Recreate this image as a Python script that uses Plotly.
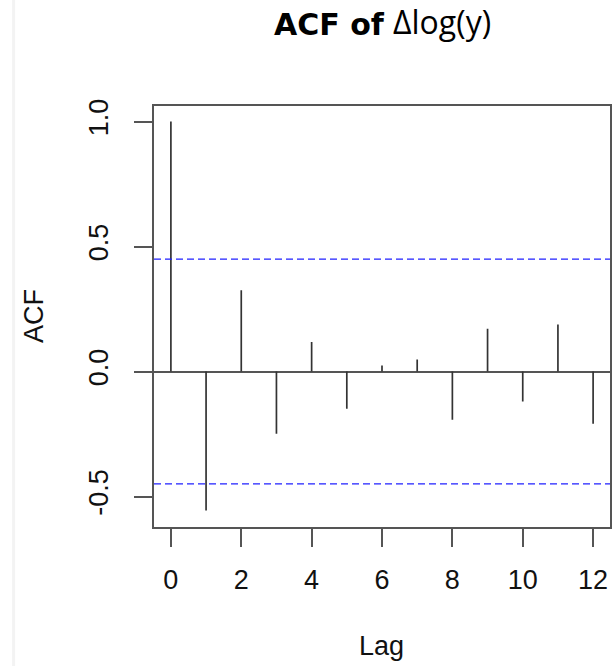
import plotly.graph_objects as go

# ---- data ----
lags = [0, 1, 2, 3, 4, 5, 6, 7, 8, 9, 10, 11, 12]
acf_values = [1.0, -0.556, 0.325, -0.249, 0.118, -0.149, 0.024, 0.048, -0.193, 0.171, -0.120, 0.188, -0.209]
conf_bound = 0.4497  # 1.96/sqrt(n), n = 19
x_ticks = [0, 2, 4, 6, 8, 10, 12]
y_ticks = [-0.5, 0.0, 0.5, 1.0]
y_tick_labels = ["-0.5", "0.0", "0.5", "1.0"]

W, H = 613, 666
L, R, T, B = 154, 1, 106, 139

FONT = "Liberation Sans, Arial, Helvetica, sans-serif"

spike_x, spike_y = [], []
for lag, v in zip(lags, acf_values):
    spike_x += [lag, lag, None]
    spike_y += [0, v, None]

fig = go.Figure()
fig.add_trace(go.Scatter(x=spike_x, y=spike_y, mode="lines",
                         line=dict(color="#333333", width=1.7),
                         hoverinfo="skip", showlegend=False))
for yv in (conf_bound, -conf_bound):
    fig.add_trace(go.Scatter(x=[-0.48, 12.48], y=[yv, yv], mode="lines",
                             line=dict(color="#2020ff", width=1.4, dash="7px,4px"),
                             hoverinfo="skip", showlegend=False))

axis_common = dict(showline=True, mirror=True, linecolor="#555555", linewidth=1.5,
                   ticks="outside", ticklen=18, tickwidth=1.5, tickcolor="#555555",
                   showgrid=False,
                   tickfont=dict(family=FONT, size=27, color="#111111"))

fig.update_xaxes(range=[-0.48, 12.48], tickvals=x_ticks, zeroline=False,
                 ticklabelstandoff=10, ticklabeloverflow="allow", **axis_common)
fig.update_yaxes(range=[-0.622, 1.062], tickvals=y_ticks, ticktext=y_tick_labels,
                 tickangle=-90, zeroline=True, zerolinecolor="#555555", zerolinewidth=1.5,
                 ticklabelstandoff=15, **axis_common)

plot_w = W - L - R
plot_h = H - T - B

def px_x(p):
    return (p - L) / plot_w

def px_y(p):
    return (H - B - p) / plot_h

annotations = [
    dict(text="<b>ACF of</b>", x=px_x(388), y=px_y(24), xref="paper", yref="paper",
         xanchor="right", yanchor="middle", showarrow=False,
         font=dict(family="DejaVu Sans, sans-serif", size=30, color="#000000")),
    dict(text="Δlog(y)", x=px_x(392), y=px_y(21), xref="paper", yref="paper",
         xanchor="left", yanchor="middle", showarrow=False,
         font=dict(family="Open Sans, sans-serif", size=32, color="#000000")),
    dict(text="ACF", x=px_x(33.5), y=px_y(316), xref="paper", yref="paper",
         xanchor="center", yanchor="middle", textangle=-90, showarrow=False,
         font=dict(family=FONT, size=27, color="#111111")),
    dict(text="Lag", x=px_x(382), y=px_y(646), xref="paper", yref="paper",
         xanchor="center", yanchor="middle", showarrow=False,
         font=dict(family=FONT, size=27, color="#111111")),
]

fig.update_layout(
    width=W, height=H, autosize=False,
    margin=dict(l=L, r=R, t=T, b=B, pad=0),
    paper_bgcolor="white", plot_bgcolor="white",
    annotations=annotations,
    shapes=[dict(type="line", xref="paper", yref="paper",
                 x0=px_x(13), x1=px_x(13), y0=px_y(0), y1=px_y(H),
                 line=dict(color="#f3f3f3", width=3))],
)

fig.write_html(
    "out.html",
    config={"displayModeBar": False},
    post_script="document.body.style.margin='0';document.body.style.overflow='hidden';",
)
